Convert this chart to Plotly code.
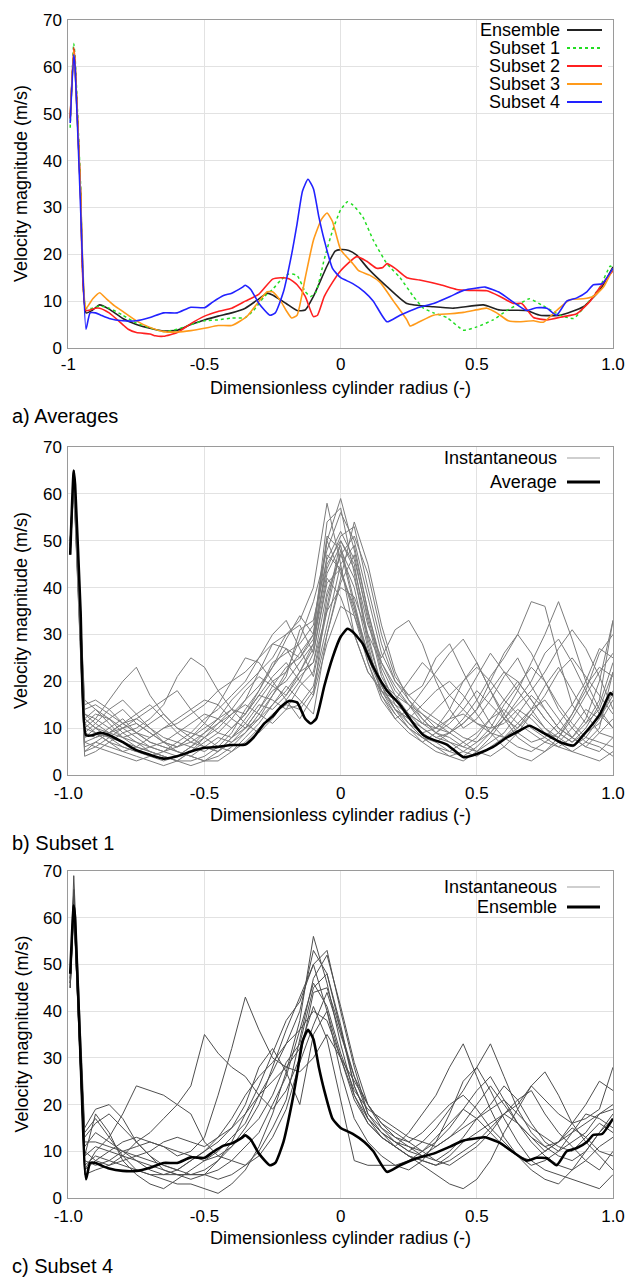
import plotly.graph_objects as go

# ------------------------------------------------------------------ data
# a) Averages
ENS_X = [-0.993, -0.98, -0.975, -0.955, -0.935, -0.913, -0.885, -0.85, -0.8, -0.75, -0.7, -0.65, -0.6,
         -0.55, -0.5, -0.45, -0.4, -0.35, -0.3, -0.27, -0.25, -0.2, -0.16, -0.13, -0.1, -0.05, -0.02,
         0.0, 0.03, 0.059, 0.1, 0.17, 0.243, 0.341, 0.415, 0.524, 0.585, 0.683, 0.732, 0.806, 0.891,
         0.952, 1.0]
ENS_Y = [49, 63, 60, 33, 7.5, 8, 9.2, 8.3, 6.3, 5, 4.2, 3.6, 3.8,
         5, 6, 6.8, 7.5, 8.5, 10.5, 11.7, 11.3, 9.5, 8, 8.1, 11, 17.5, 20.7,
         21, 20.8, 19.8, 17, 13.1, 9.5, 8.8, 8.5, 9.2, 8.1, 8, 7.0, 7.0, 8.8,
         12.4, 17.3]

S1_X = [-0.993, -0.98, -0.975, -0.955, -0.935, -0.91, -0.885, -0.85, -0.8, -0.75, -0.7, -0.65, -0.6,
        -0.55, -0.5, -0.45, -0.4, -0.35, -0.32, -0.28, -0.25, -0.22, -0.19, -0.16, -0.13, -0.11,
        -0.09, -0.06, -0.03, 0.0, 0.025, 0.045, 0.081, 0.12, 0.17, 0.218, 0.267, 0.304, 0.341, 0.39,
        0.451, 0.5, 0.56, 0.61, 0.658, 0.693, 0.744, 0.806, 0.855, 0.891, 0.952, 0.99, 1.0]
S1_Y = [47, 65, 62, 35, 8.5, 8.5, 9, 8.5, 7, 5.3, 4.3, 3.5, 4,
        5, 5.8, 6, 6.4, 6.5, 8, 11, 12.5, 14.5, 15.8, 15.5, 12, 11,
        12, 19, 25, 29.5, 31.2, 30.5, 28, 23, 18, 15, 11, 8.5, 7.5, 6.5,
        3.8, 4.5, 6, 8, 9.5, 10.5, 9, 7, 6.3, 8.5, 13, 17.5, 17]

S2_X = [-0.993, -0.98, -0.975, -0.955, -0.935, -0.9, -0.885, -0.85, -0.8, -0.78, -0.75, -0.7, -0.68,
        -0.65, -0.6, -0.55, -0.5, -0.45, -0.4, -0.35, -0.3, -0.25, -0.22, -0.19, -0.16, -0.13, -0.1,
        -0.085, -0.06, -0.03, 0.0, 0.059, 0.096, 0.132, 0.155, 0.17, 0.2, 0.243, 0.29, 0.366, 0.426,
        0.475, 0.537, 0.585, 0.634, 0.665, 0.708, 0.757, 0.818, 0.867, 0.916, 0.965, 1.0]
S2_Y = [49, 64.1, 61, 33, 8, 8.5, 8.5, 7.5, 5, 4, 3.3, 3, 2.6,
        2.5, 3.3, 5.2, 6.8, 7.8, 8.5, 10, 11.5, 14.7, 15, 14.8, 13.5, 11, 6.7,
        7, 11, 14, 16.5, 19.5, 18.5, 17, 17.2, 18, 17, 15, 14.5, 13.5, 12.5,
        12.3, 12.2, 11, 9.5, 9.5, 6.5, 6, 6.7, 7.3, 10, 14, 16.5]

S3_X = [-0.993, -0.98, -0.975, -0.955, -0.935, -0.91, -0.885, -0.86, -0.83, -0.8, -0.75, -0.7, -0.65,
        -0.6, -0.55, -0.5, -0.45, -0.4, -0.37, -0.34, -0.3, -0.27, -0.25, -0.22, -0.2, -0.18, -0.16,
        -0.13, -0.1, -0.07, -0.05, -0.03, 0.0, 0.045, 0.066, 0.108, 0.145, 0.194, 0.243, 0.255, 0.279,
        0.341, 0.402, 0.451, 0.512, 0.537, 0.573, 0.616, 0.658, 0.708, 0.744, 0.793, 0.842, 0.891,
        0.928, 0.965, 1.0]
S3_Y = [49, 63.5, 60, 33, 8.5, 10.5, 11.8, 10.5, 9, 7.8, 5.8, 4.4, 3.5,
        3.4, 3.7, 4.2, 4.8, 4.8, 5.7, 7, 10, 12, 12, 10, 8, 6.4, 7,
        15, 23, 27.5, 28.8, 27, 21, 18, 16.5, 15.5, 14, 10, 6, 4.7, 5.3,
        7, 7.3, 7.6, 8.3, 8.5, 7.5, 5.8, 5.6, 5.8, 5.5, 8, 10.3, 10.5,
        11, 13, 17]

S4_X = [-0.993, -0.98, -0.975, -0.955, -0.935, -0.92, -0.9, -0.88, -0.85, -0.8, -0.75, -0.7, -0.65,
        -0.6, -0.55, -0.5, -0.47, -0.43, -0.4, -0.36, -0.35, -0.33, -0.3, -0.26, -0.24, -0.21, -0.18,
        -0.16, -0.14, -0.12, -0.1, -0.08, -0.06, -0.03, 0.0, 0.043, 0.087, 0.12, 0.17, 0.218, 0.279,
        0.341, 0.402, 0.451, 0.5, 0.53, 0.585, 0.634, 0.683, 0.72, 0.757, 0.793, 0.83, 0.867, 0.904,
        0.928, 0.96, 1.0]
S4_Y = [48, 62.6, 60, 30, 4, 7.5, 7.5, 7, 6.3, 5.8, 5.8, 6.5, 7.5,
        7.5, 8.7, 8.6, 9.8, 11.2, 11.7, 13, 13.4, 12.5, 9.5, 7, 7.5, 12, 20,
        26.5, 33.5, 36, 34, 28, 23, 17, 15, 13.8, 12, 10, 5.6, 7, 8.5,
        9.5, 11, 12.3, 12.8, 13, 11.8, 9.8, 8, 8.6, 8.5, 7, 10, 10.7, 12,
        13.5, 13.7, 17]

# instantaneous profiles (common radius grid)
INST_X = [-0.993, -0.98, -0.94,
          -0.9, -0.85, -0.8, -0.75, -0.7, -0.65, -0.6, -0.55, -0.5, -0.45, -0.4, -0.35, -0.3,
          -0.25, -0.2, -0.15, -0.1, -0.05, 0.0, 0.05, 0.1, 0.15, 0.2, 0.25, 0.3, 0.35, 0.4,
          0.45, 0.5, 0.55, 0.6, 0.65, 0.7, 0.75, 0.8, 0.85, 0.9, 0.95, 1.0]

SUB1_INST = [
    [49, 64, 12, 14, 11, 8, 6, 5, 4, 3, 5, 7, 9, 12, 16, 22, 28, 30, 33, 40, 58, 45, 30, 22, 18, 14, 12, 10, 8, 9, 11, 14, 18, 22, 20, 16, 12, 9, 7, 10, 15, 24],
    [48, 63, 8, 10, 12, 14, 11, 9, 7, 6, 8, 10, 12, 14, 13, 18, 24, 26, 28, 32, 50, 59, 48, 35, 24, 18, 15, 12, 9, 8, 6, 5, 7, 9, 13, 17, 14, 10, 8, 12, 20, 33],
    [50, 65, 15, 16, 14, 11, 9, 7, 6, 5, 4, 6, 8, 7, 10, 14, 19, 23, 25, 30, 44, 51, 53, 40, 28, 20, 16, 13, 10, 9, 11, 14, 20, 26, 30, 37, 36, 25, 15, 11, 14, 22],
    [47, 62, 5, 7, 9, 11, 13, 15, 12, 9, 7, 6, 5, 8, 11, 15, 14, 17, 21, 24, 35, 48, 42, 30, 19, 14, 11, 9, 10, 14, 20, 24, 18, 12, 8, 6, 5, 7, 10, 14, 12, 17],
    [49, 64, 10, 9, 8, 7, 6, 5, 4, 3, 2, 3, 5, 8, 12, 16, 20, 22, 29, 37, 48, 56, 50, 38, 26, 20, 17, 19, 25, 28, 22, 16, 11, 8, 6, 5, 7, 9, 13, 18, 26, 30],
    [50, 63, 13, 12, 16, 20, 23, 17, 13, 10, 9, 8, 6, 5, 7, 10, 13, 15, 14, 18, 30, 42, 54, 45, 32, 22, 16, 12, 9, 7, 5, 4, 6, 8, 11, 14, 16, 12, 8, 6, 5, 8],
    [48, 64, 7, 6, 5, 4, 3, 4, 5, 7, 9, 12, 14, 17, 20, 25, 28, 27, 25, 29, 45, 50, 44, 32, 25, 31, 33, 28, 20, 14, 10, 12, 16, 21, 25, 19, 14, 10, 8, 6, 9, 12],
    [49, 65, 11, 13, 12, 10, 8, 6, 5, 6, 8, 11, 15, 20, 25, 24, 20, 16, 12, 17, 38, 47, 40, 27, 18, 13, 10, 8, 6, 4, 3, 5, 8, 12, 16, 20, 26, 29, 24, 18, 13, 10],
    [47, 62, 4, 5, 7, 9, 10, 12, 15, 21, 25, 23, 18, 14, 11, 9, 12, 16, 20, 26, 41, 44, 34, 24, 16, 12, 14, 18, 22, 26, 29, 24, 18, 13, 9, 7, 8, 11, 15, 20, 27, 25],
    [50, 64, 9, 8, 10, 12, 9, 7, 6, 5, 4, 3, 4, 6, 9, 13, 17, 21, 31, 33, 46, 52, 46, 34, 22, 15, 11, 8, 7, 9, 12, 16, 21, 25, 30, 26, 20, 14, 10, 7, 6, 4],
    [48, 63, 14, 15, 13, 11, 9, 8, 10, 12, 14, 16, 15, 12, 10, 12, 15, 18, 22, 28, 50, 43, 36, 26, 19, 14, 12, 15, 18, 20, 17, 13, 9, 6, 4, 3, 5, 8, 13, 19, 23, 21],
    [49, 64, 6, 7, 6, 5, 6, 8, 10, 11, 13, 15, 18, 20, 22, 25, 30, 33, 27, 21, 35, 40, 38, 30, 24, 19, 15, 11, 9, 11, 14, 18, 15, 12, 10, 13, 17, 22, 25, 21, 17, 13],
    [50, 65, 12, 10, 9, 8, 7, 5, 4, 3, 3, 4, 6, 9, 14, 18, 23, 27, 22, 24, 39, 47, 51, 43, 30, 21, 17, 14, 12, 10, 8, 7, 9, 13, 18, 24, 30, 37, 29, 20, 14, 10],
    [48, 63, 9, 11, 14, 16, 13, 10, 8, 7, 6, 5, 7, 10, 13, 17, 16, 14, 15, 19, 32, 45, 49, 35, 23, 17, 13, 10, 8, 7, 6, 8, 12, 16, 20, 16, 12, 9, 7, 9, 11, 16],
    [49, 64, 16, 14, 12, 9, 7, 6, 5, 4, 6, 9, 12, 16, 19, 22, 25, 30, 32, 26, 42, 38, 30, 22, 18, 16, 20, 24, 21, 17, 14, 11, 9, 8, 10, 14, 19, 23, 18, 13, 9, 8],
    [47, 62, 8, 9, 7, 5, 4, 3, 2, 3, 5, 8, 11, 13, 15, 13, 11, 14, 19, 22, 36, 50, 45, 29, 19, 14, 10, 7, 5, 4, 5, 7, 10, 15, 19, 23, 20, 15, 11, 8, 7, 6],
    [50, 65, 10, 12, 10, 8, 9, 11, 13, 10, 8, 6, 5, 7, 9, 12, 17, 22, 26, 30, 54, 57, 43, 28, 17, 12, 9, 7, 9, 12, 16, 21, 26, 22, 18, 14, 10, 7, 5, 4, 3, 5],
    [48, 63, 13, 11, 9, 10, 12, 14, 16, 18, 14, 11, 9, 8, 10, 14, 18, 20, 24, 28, 43, 49, 37, 25, 18, 15, 13, 11, 10, 12, 13, 11, 10, 11, 14, 12, 9, 8, 12, 17, 22, 26],
    [49, 64, 7, 8, 9, 11, 12, 10, 7, 5, 4, 3, 3, 5, 8, 11, 15, 19, 16, 13, 30, 41, 47, 33, 21, 16, 12, 9, 7, 5, 4, 6, 9, 12, 15, 18, 22, 27, 31, 27, 21, 14],
    [50, 65, 11, 9, 7, 6, 5, 6, 7, 9, 11, 13, 12, 10, 13, 17, 21, 24, 20, 17, 28, 36, 34, 26, 20, 17, 15, 13, 11, 9, 7, 5, 4, 6, 9, 13, 10, 8, 6, 8, 12, 18],
    [48, 63, 5, 6, 8, 10, 11, 9, 7, 6, 7, 9, 11, 14, 18, 21, 19, 17, 22, 27, 47, 44, 35, 26, 20, 16, 13, 11, 14, 17, 20, 23, 20, 16, 13, 10, 8, 6, 5, 7, 10, 22],
    [49, 64, 12, 10, 8, 6, 5, 4, 3, 4, 6, 8, 10, 13, 16, 19, 23, 29, 34, 30, 51, 48, 36, 24, 17, 13, 10, 8, 6, 5, 7, 9, 12, 14, 11, 9, 7, 6, 8, 11, 16, 33],
]

SUB4_INST = [
    [46, 69, 15, 19, 20, 17, 12, 9, 6, 5, 4, 5, 8, 12, 18, 24, 31, 38, 42, 50, 53, 40, 28, 18, 14, 11, 9, 8, 7, 9, 12, 14, 16, 18, 20, 24, 21, 18, 16, 17, 19, 28],
    [47, 65, 9, 18, 14, 8, 5, 3, 2, 4, 6, 8, 10, 13, 16, 22, 27, 33, 40, 53, 48, 36, 24, 17, 13, 11, 14, 18, 22, 28, 33, 26, 19, 13, 9, 6, 4, 3, 6, 10, 14, 17],
    [45, 62, 6, 10, 13, 18, 24, 23, 22, 20, 18, 12, 9, 8, 7, 10, 15, 21, 34, 47, 52, 41, 29, 20, 15, 12, 10, 12, 15, 19, 23, 28, 33, 26, 19, 14, 11, 12, 15, 13, 10, 9],
    [46, 66, 10, 8, 7, 9, 12, 14, 17, 20, 24, 35, 31, 28, 26, 22, 19, 23, 30, 44, 45, 36, 26, 18, 15, 13, 11, 9, 8, 10, 13, 17, 20, 24, 21, 16, 12, 10, 14, 18, 17, 15],
    [47, 63, 7, 9, 8, 7, 6, 5, 4, 3, 3, 2, 1, 3, 6, 11, 18, 27, 38, 56, 46, 33, 22, 16, 13, 11, 9, 7, 5, 3, 2, 4, 8, 14, 19, 24, 27, 22, 16, 12, 9, 6],
    [45, 64, 12, 12, 11, 10, 8, 6, 5, 5, 5, 6, 8, 11, 15, 20, 28, 36, 43, 50, 40, 27, 17, 12, 9, 7, 6, 8, 12, 18, 25, 28, 23, 17, 12, 8, 6, 5, 4, 3, 2, 5],
    [46, 62, 8, 7, 8, 10, 11, 12, 11, 9, 10, 13, 22, 32, 43, 36, 30, 28, 32, 41, 34, 21, 8, 7, 7, 7, 8, 10, 13, 16, 19, 17, 14, 11, 9, 8, 10, 12, 14, 16, 18, 20],
    [47, 65, 11, 14, 12, 10, 9, 8, 7, 6, 8, 10, 13, 17, 22, 26, 29, 33, 36, 40, 38, 30, 22, 17, 14, 12, 10, 9, 11, 13, 15, 17, 19, 21, 18, 15, 13, 11, 10, 13, 16, 14],
    [45, 63, 5, 6, 7, 8, 9, 10, 12, 13, 12, 11, 13, 15, 18, 22, 25, 28, 27, 30, 35, 30, 25, 20, 16, 13, 12, 14, 17, 20, 22, 19, 15, 12, 9, 7, 8, 10, 12, 14, 18, 19],
    [46, 64, 13, 16, 18, 15, 12, 9, 7, 6, 5, 5, 6, 8, 11, 14, 20, 26, 36, 46, 41, 31, 23, 19, 17, 15, 13, 12, 11, 13, 16, 20, 24, 20, 16, 13, 10, 12, 16, 20, 25, 23],
    [47, 66, 9, 11, 10, 9, 8, 7, 6, 5, 5, 5, 4, 5, 7, 9, 13, 19, 29, 37, 44, 35, 26, 20, 16, 14, 12, 10, 8, 7, 9, 11, 14, 18, 21, 23, 18, 14, 11, 8, 6, 10],
    [45, 62, 14, 17, 13, 9, 6, 5, 5, 6, 8, 10, 12, 15, 20, 28, 32, 27, 20, 35, 40, 30, 21, 16, 13, 11, 9, 8, 7, 8, 10, 12, 15, 18, 16, 13, 11, 9, 8, 10, 14, 18],
    [46, 64, 6, 8, 10, 12, 13, 12, 11, 10, 9, 8, 9, 11, 14, 17, 22, 29, 33, 45, 48, 37, 24, 17, 14, 12, 11, 10, 12, 15, 19, 23, 26, 21, 16, 12, 9, 7, 6, 8, 11, 13],
]

X_TICKS = [-1, -0.5, 0, 0.5, 1]
X_TEXT_A = ["-1", "-0.5", "0", "0.5", "1.0"]
X_TEXT_BC = ["-1.0", "-0.5", "0", "0.5", "1.0"]
Y_TICKS = [0, 10, 20, 30, 40, 50, 60, 70]

X_TITLE = "Dimensionless cylinder radius (-)"
Y_TITLE = "Velocity magnitude (m/s)"
CAPTIONS = ["a) Averages", "b) Subset 1", "c) Subset 4"]
LEGEND_A = ["Ensemble", "Subset 1", "Subset 2", "Subset 3", "Subset 4"]
LEGEND_B = ["Instantaneous", "Average"]
LEGEND_C = ["Instantaneous", "Ensemble"]

# ------------------------------------------------------------------ styling
W, H = 630, 1280
FONT = "Liberation Sans, Arial, Helvetica, sans-serif"
GRID = "#e2e2e2"
FRAME = "#9a9a9a"


def PX(v):
    return v / W


def PY(v):
    return 1 - v / H


X_DOM = [PX(68.3), PX(613)]
PANELS = [  # (top px, bottom px)
    (20, 348),
    (447, 775),
    (871, 1198),
]
X_STANDOFF = [1, 3, 3]

STYLE_A = [
    dict(color="#222222", width=1.6, dash="solid"),
    dict(color="#22dd22", width=1.5, dash="dot"),
    dict(color="#ff2020", width=1.6, dash="solid"),
    dict(color="#ff9a1a", width=1.6, dash="solid"),
    dict(color="#2222ff", width=1.6, dash="solid"),
]
SMOOTH = 0.5

fig = go.Figure()

# panel a
for (xs, ys), st in zip([(ENS_X, ENS_Y), (S1_X, S1_Y), (S2_X, S2_Y), (S3_X, S3_Y), (S4_X, S4_Y)], STYLE_A):
    fig.add_trace(go.Scatter(x=xs, y=ys, mode="lines", line=dict(shape="spline", smoothing=SMOOTH, **st),
                             xaxis="x", yaxis="y", showlegend=False, hoverinfo="skip"))

# panel b
for ys in SUB1_INST:
    fig.add_trace(go.Scatter(x=INST_X, y=ys, mode="lines", line=dict(color="#7c7c7c", width=1),
                             xaxis="x2", yaxis="y2", showlegend=False, hoverinfo="skip"))
fig.add_trace(go.Scatter(x=S1_X, y=S1_Y, mode="lines",
                         line=dict(color="black", width=2.6, shape="spline", smoothing=SMOOTH),
                         xaxis="x2", yaxis="y2", showlegend=False, hoverinfo="skip"))

# panel c
for ys in SUB4_INST:
    fig.add_trace(go.Scatter(x=INST_X, y=ys, mode="lines", line=dict(color="#4e4e4e", width=1),
                             xaxis="x3", yaxis="y3", showlegend=False, hoverinfo="skip"))
fig.add_trace(go.Scatter(x=S4_X, y=S4_Y, mode="lines",
                         line=dict(color="black", width=2.6, shape="spline", smoothing=SMOOTH),
                         xaxis="x3", yaxis="y3", showlegend=False, hoverinfo="skip"))

axis_common = dict(showgrid=True, gridcolor=GRID, gridwidth=1, showline=True, linecolor=FRAME,
                   linewidth=1, mirror=True, zeroline=False, ticks="", automargin=False,
                   fixedrange=True, tickfont=dict(family=FONT, size=17, color="black"))

layout = dict(width=W, height=H, margin=dict(l=0, r=0, t=0, b=0), paper_bgcolor="white",
              plot_bgcolor="white", showlegend=False, font=dict(family=FONT, size=18, color="black"))

annotations = []
shapes = []
for i, (top, bot) in enumerate(PANELS):
    sfx = "" if i == 0 else str(i + 1)
    layout["xaxis" + sfx] = dict(domain=X_DOM, anchor="y" + sfx, range=[-1, 1], tickmode="array",
                                 tickvals=X_TICKS, ticktext=X_TEXT_A if i == 0 else X_TEXT_BC,
                                 ticklabelstandoff=X_STANDOFF[i], **axis_common)
    layout["yaxis" + sfx] = dict(domain=[PY(bot), PY(top)], anchor="x" + sfx, range=[0, 70],
                                 tickmode="array", tickvals=Y_TICKS, ticklabelstandoff=2, **axis_common)
    annotations.append(dict(text=X_TITLE, xref="paper", yref="paper", x=PX(340.5), y=PY(bot + 40),
                            xanchor="center", yanchor="middle", showarrow=False, font=dict(size=18)))
    annotations.append(dict(text=Y_TITLE, xref="paper", yref="paper", x=PX(21), y=PY((top + bot) / 2),
                            xanchor="center", yanchor="middle", textangle=-90, showarrow=False,
                            font=dict(size=18)))
    annotations.append(dict(text=CAPTIONS[i], xref="paper", yref="paper", x=PX(10), y=PY(bot + 68),
                            xanchor="left", yanchor="middle", showarrow=False, font=dict(size=20)))

# legend of panel a (text, then line sample, gnuplot style)
shapes.append(dict(type="rect", xref="paper", yref="paper", x0=PX(479), x1=PX(608), y0=PY(111),
                   y1=PY(21), fillcolor="white", line=dict(width=0), layer="above"))
for k, (lab, st) in enumerate(zip(LEGEND_A, STYLE_A)):
    yy = 30 + k * 18
    annotations.append(dict(text=lab, xref="paper", yref="paper", x=PX(562), y=PY(yy), xanchor="right",
                            yanchor="middle", showarrow=False, font=dict(size=18)))
    shapes.append(dict(type="line", xref="paper", yref="paper", x0=PX(567), x1=PX(602), y0=PY(yy),
                       y1=PY(yy), line=dict(color=st["color"], width=st["width"] + 0.6, dash=st["dash"]),
                       layer="above"))

# legends of panels b and c
for labels, rows in [(LEGEND_B, (458, 482)), (LEGEND_C, (887, 907))]:
    for lab, yy, lst in zip(labels, rows, [dict(color="#a0a0a0", width=1.2), dict(color="black", width=2.8)]):
        annotations.append(dict(text=lab, xref="paper", yref="paper", x=PX(559), y=PY(yy), xanchor="right",
                                yanchor="middle", showarrow=False, font=dict(size=18)))
        shapes.append(dict(type="line", xref="paper", yref="paper", x0=PX(567), x1=PX(600), y0=PY(yy),
                           y1=PY(yy), line=lst, layer="above"))

layout["annotations"] = annotations
layout["shapes"] = shapes
fig.update_layout(**layout)
fig.write_html("out.html")
